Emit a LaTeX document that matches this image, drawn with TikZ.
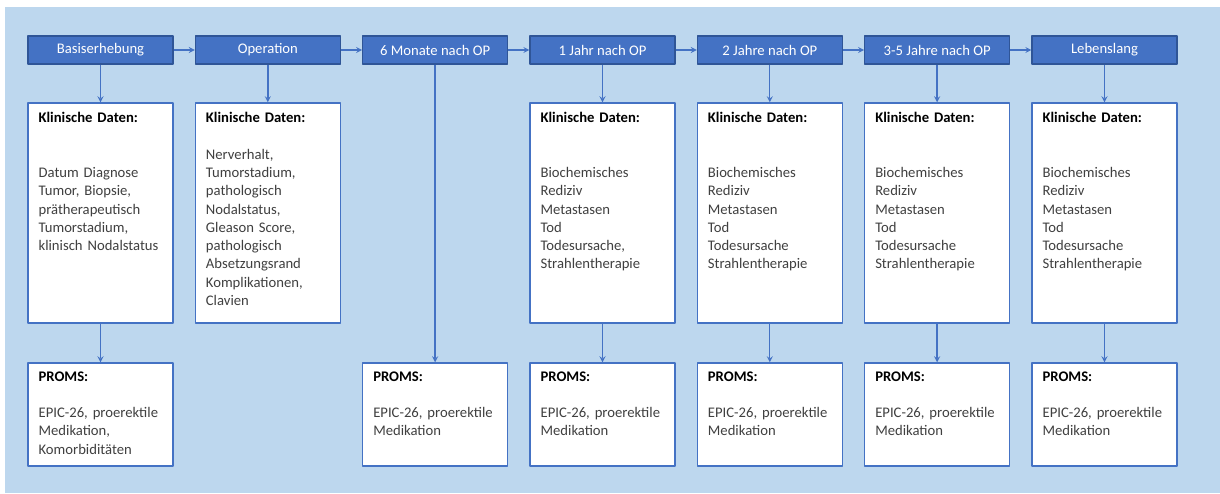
\documentclass[tikz,border=0pt]{standalone}
\usepackage{fontspec}
\setmainfont{Carlito}
\usetikzlibrary{positioning}
\definecolor{hgblau}{HTML}{BDD7EE}
\definecolor{kopfblau}{HTML}{4472C4}
\definecolor{randblau}{HTML}{2F5597}
\definecolor{textgrau}{HTML}{404040}
\begin{document}
\begin{tikzpicture}[x=0.75pt,y=0.75pt,line join=round,>=stealth,
	kopf/.style={draw=randblau,fill=kopfblau,line width=0.8pt,text=white,minimum width=108.75pt,minimum height=21pt,inner sep=0pt,font=\fontsize{11}{13.7}\selectfont},
	kasten/.style={draw=kopfblau,fill=white,line width=1pt,minimum width=108.75pt,inner sep=0pt},
	inhalt/.style={anchor=base west,inner sep=0pt,align=left,text width=104pt,text=textgrau,font=\fontsize{11}{13.7}\selectfont},
	pfeil/.style={->,draw=kopfblau,line width=1pt}]
	\useasboundingbox (0,0) rectangle (1220,493);
	\fill[white] (0,0) rectangle (1220,493);
	\fill[hgblau] (5,0) rectangle (1220,486);
	% Zeitachse
	\foreach \i/\t in {1/Basiserhebung,2/Operation,3/6 Monate nach OP,4/1 Jahr nach OP,5/2 Jahre nach OP,6/3-5 Jahre nach OP,7/Lebenslang}
	\node[kopf] (h\i) at ({100.5+167.33*(\i-1)},443) {\t};
	\foreach \i/\j in {1/2,2/3,3/4,4/5,5/6,6/7}
	\draw[pfeil] (h\i) -- (h\j);
	% Klinische Daten
	\foreach \i in {1,2,4,5,6,7}
	\node[kasten,minimum height=165pt] (k\i) at ({100.5+167.33*(\i-1)},280) {};
	\node[inhalt] (k1t) at ([xshift=8.25pt,yshift=-15.4pt]k1.north west)
	{\textcolor{black}{\textbf{Klinische Daten:}}\\[27.4pt]Datum Diagnose\\Tumor, Biopsie,\\prätherapeutisch\\Tumorstadium,\\klinisch Nodalstatus};
	\node[inhalt] (k2t) at ([xshift=8.25pt,yshift=-15.4pt]k2.north west)
	{\textcolor{black}{\textbf{Klinische Daten:}}\\[13.7pt]Nerverhalt,\\Tumorstadium,\\pathologisch\\Nodalstatus,\\Gleason Score,\\pathologisch\\Absetzungsrand\\Komplikationen,\\Clavien};
	\foreach \i/\t in {4/{Todesursache,},5/Todesursache,6/Todesursache,7/Todesursache}
	\node[inhalt] (k\i t) at ([xshift=8.25pt,yshift=-15.4pt]k\i.north west)
	{\textcolor{black}{\textbf{Klinische Daten:}}\\[27.4pt]Biochemisches\\Rediziv\\Metastasen\\Tod\\\t\\Strahlentherapie};
	% PROMS
	\foreach \i in {1,3,4,5,6,7}
	\node[kasten,minimum height=77.25pt] (p\i) at ({100.5+167.33*(\i-1)},78.5) {};
	\node[inhalt] (p1t) at ([xshift=8.25pt,yshift=-14pt]p1.north west)
	{\textcolor{black}{\textbf{PROMS:}}\\[13.7pt]EPIC-26, proerektile\\Medikation,\\Komorbiditäten};
	\foreach \i in {3,4,5,6,7}
	\node[inhalt] (p\i t) at ([xshift=8.25pt,yshift=-14pt]p\i.north west)
	{\textcolor{black}{\textbf{PROMS:}}\\[13.7pt]EPIC-26, proerektile\\Medikation};
	% Verbindungen
	\foreach \i in {1,2,4,5,6,7}
	\draw[pfeil] (h\i) -- (k\i);
	\foreach \i in {1,4,5,6,7}
	\draw[pfeil] (k\i) -- (p\i);
	\draw[pfeil] (h3) -- (p3);
\end{tikzpicture}
\end{document}
